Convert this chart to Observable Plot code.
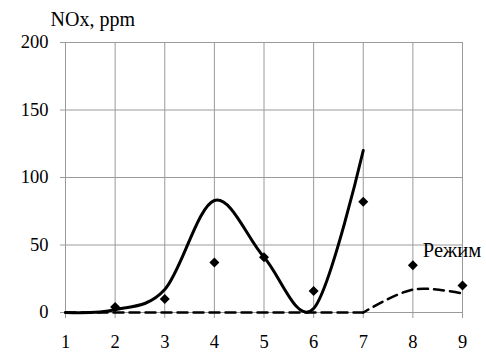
<!DOCTYPE html>
<html>
<head>
<meta charset="utf-8">
<script src="https://cdn.jsdelivr.net/npm/d3@7"></script>
<script src="https://cdn.jsdelivr.net/npm/@observablehq/plot@0.6"></script>
<style>
  html, body { margin: 0; padding: 0; background: #fff; }
</style>
</head>
<body>
<div id="chart"></div>
<script>
const xTicks = [1, 2, 3, 4, 5, 6, 7, 8, 9];
const yTicks = [0, 50, 100, 150, 200];

// Solid smoothed curve
const solidX = [1, 2, 3, 4, 5, 6, 7];
const solidY = [0, 2, 17, 83, 41, 3, 120];

// Dashed smoothed curve
const dashX = [1, 2, 3, 4, 5, 6, 7, 8, 9];
const dashY = [0, 0, 0, 0, 0, 0, 0, 17, 14];

// Diamond markers
const dotX = [2, 3, 4, 5, 6, 7, 8, 9];
const dotY = [4, 10, 37, 41, 16, 82, 35, 20];

const yTitle = "NOx, ppm";
const seriesLabel = "Режим";

const solid = solidX.map((x, i) => ({x, y: solidY[i]}));
const dashed = dashX.map((x, i) => ({x, y: dashY[i]}));
const dashFlat = dashed.filter(d => d.x <= 7);
const dashRise = dashed.filter(d => d.x >= 7);
const dots = dotX.map((x, i) => ({x, y: dotY[i]}));

const grid = "#9a9a9a";

const chart = Plot.plot({
  width: 486,
  height: 358,
  marginLeft: 65,
  marginRight: 24,
  marginTop: 42,
  marginBottom: 46,
  style: "font-family: 'Liberation Serif', serif; font-size: 18px; background: #fff; color: #000;",
  x: {domain: [1, 9], label: null},
  y: {domain: [0, 200], label: null},
  marks: [
    Plot.gridX(xTicks, {stroke: grid, strokeOpacity: 1, strokeWidth: 1}),
    Plot.gridY(yTicks, {stroke: grid, strokeOpacity: 1, strokeWidth: 1}),
    Plot.axisX(xTicks, {tickSize: 6, tickPadding: 16, stroke: grid, fill: "#000", label: null, fontSize: 18.5}),
    Plot.axisY(yTicks, {tickSize: 5, tickPadding: 12, stroke: grid, fill: "#000", label: null, fontSize: 18.5}),
    Plot.line(dashFlat, {x: "x", y: "y", stroke: "#000", strokeWidth: 2.5, strokeDasharray: "10,6"}),
    Plot.line(dashRise, {x: "x", y: "y", curve: "cardinal", tension: 0, stroke: "#000", strokeWidth: 2.5, strokeDasharray: "10,6", strokeDashoffset: 4}),
    Plot.line(solid, {x: "x", y: "y", curve: "cardinal", tension: 0, stroke: "#000", strokeWidth: 3}),
    Plot.dot(dots, {x: "x", y: "y", symbol: "diamond2", r: 4.5, fill: "#000", stroke: "none"}),
    Plot.text([seriesLabel], {x: 8.2, y: 41, text: d => d, textAnchor: "start", lineAnchor: "bottom", fontSize: 20.5, fill: "#000"}),
    Plot.text([yTitle], {frameAnchor: "top-left", text: d => d, dx: -15, dy: -17, textAnchor: "start", lineAnchor: "bottom", fontSize: 20, fill: "#000"})
  ]
});
d3.select(chart).selectAll("text").style("font-family", "'Liberation Serif', serif");
document.getElementById("chart").appendChild(chart);
</script>
</body>
</html>
